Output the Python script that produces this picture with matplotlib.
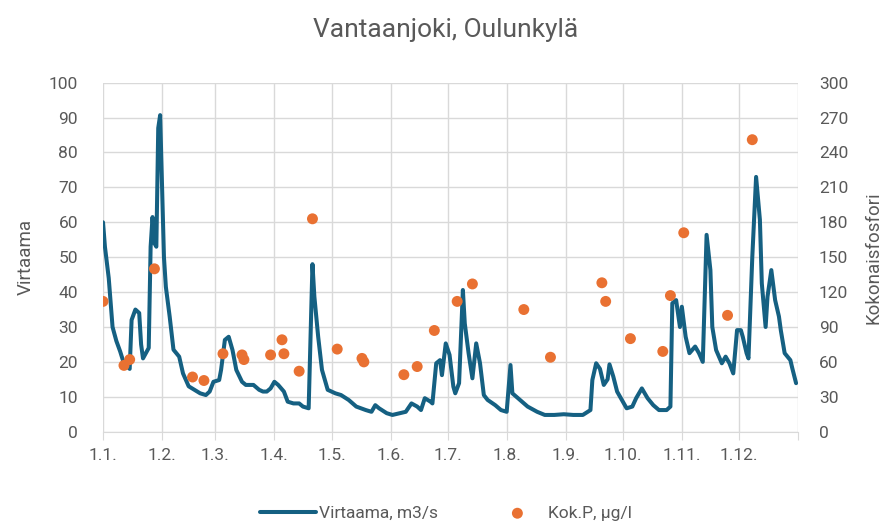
import matplotlib
matplotlib.use("Agg")
import matplotlib.pyplot as plt

# Daily flow (day of year, m3/s)
flow_day = [0, 1, 3, 4, 5, 7, 9, 11, 14, 15, 17, 19, 20, 21, 23, 24, 25, 26, 27, 28,
            29, 30, 31, 32, 33, 35, 37, 40, 42, 45, 48, 51, 54, 56, 58, 61, 62, 64, 66, 68,
            70, 73, 75, 79, 82, 84, 86, 88, 90, 92, 95, 97, 100, 103, 105, 108, 110, 111, 113, 115,
            118, 122, 125, 129, 133, 138, 141, 143, 145, 149, 152, 156, 159, 162, 165, 167, 169, 172, 173, 175,
            177, 178, 180, 182, 184, 185, 187, 189, 190, 192, 194, 196, 198, 200, 202, 206, 209, 212, 214, 215,
            219, 223, 228, 232, 237, 242, 247, 252, 256, 257, 259, 261, 263, 265, 266, 268, 270, 272, 275, 278,
            280, 283, 286, 289, 292, 296, 298, 299, 301, 303, 304, 306, 308, 311, 313, 315, 317, 319, 320, 322,
            325, 327, 329, 331, 333, 335, 336, 338, 339, 341, 343, 345, 346, 348, 349, 351, 353, 355, 356, 358,
            361, 362, 364]
flow_val = [60, 53, 44, 37, 30, 26, 23, 19.5, 18, 32, 35, 34, 25, 21, 23, 24, 53, 61.5, 54, 53,
            87, 90.7, 70, 50, 41.5, 33, 23.5, 21.5, 16.7, 13, 12, 11, 10.5, 11.5, 14.3, 14.8, 17.7, 26.3, 27.2, 23.4,
            17.7, 14.3, 13.4, 13.4, 12, 11.5, 11.5, 12.4, 14.3, 13.4, 11.5, 8.6, 8.1, 8.1, 7.2, 6.7, 48, 38.7, 27.2, 17.7,
            12, 11, 10.5, 9.1, 7.2, 6.2, 5.7, 7.6, 6.7, 5.3, 4.8, 5.3, 5.7, 8.1, 7.2, 6.2, 9.6, 8.6, 8.1, 19.6,
            20.5, 16.2, 25.3, 22, 12.9, 11, 13.9, 40.6, 31, 22.5, 15.3, 25.3, 19.6, 10.5, 9.1, 7.6, 6.2, 5.7, 19.1, 11,
            9.1, 7.2, 5.7, 4.8, 4.8, 5.0, 4.8, 4.8, 6.2, 14.8, 19.6, 18, 13.4, 15, 19.3, 15.8, 11.5, 9.6, 6.7, 7.2,
            9.6, 12.4, 9.6, 7.6, 6.2, 6.2, 7.2, 36.8, 37.7, 30, 35.8, 27.2, 22.5, 24.4, 22.5, 20, 56.4, 46.3, 30, 23.4,
            19.6, 21.5, 19.6, 16.7, 29.1, 29.1, 27.2, 22.5, 21, 50, 73, 60.7, 42.5, 30, 38.7, 46.3, 37.7, 33, 29, 22.5,
            20.5, 18.2, 13.9]

# Total phosphorus samples (day of year, ug/l)
p_day = [0, 11, 14, 27, 47, 53, 63, 73, 74, 88, 94, 95, 103, 110, 123, 136, 137,
         158, 165, 174, 186, 194, 221, 235, 262, 264, 277, 294, 298, 305, 328, 341]
p_val = [112, 57, 62, 140, 47, 44, 67, 66, 62, 66, 79, 67, 52, 183, 71, 63, 60,
         49, 56, 87, 112, 127, 105, 64, 128, 112, 80, 69, 117, 171, 100, 251]

month_start = [0, 31, 59, 90, 120, 151, 181, 212, 243, 273, 304, 334, 365]
month_labels = ["1.1.", "1.2.", "1.3.", "1.4.", "1.5.", "1.6.", "1.7.", "1.8.",
                "1.9.", "1.10.", "1.11.", "1.12.", ""]

plt.rcParams['font.family'] = ['Roboto', 'DejaVu Sans']
text_col = "#595959"
grid_col = "#d9d9d9"

fig = plt.figure(figsize=(8.92, 5.28), dpi=100)
ax = fig.add_axes([0.1155, 0.1824, 0.7791, 0.661])
ax2 = ax.twinx()

line, = ax.plot(flow_day, flow_val, color="#156082", lw=2.9, label="Virtaama, m3/s",
                solid_joinstyle="round", solid_capstyle="round", zorder=3)
dots = ax2.scatter(p_day, p_val, s=62, color="#e97132", edgecolors="none",
                   label="Kok.P, µg/l", zorder=4)

ax.set_xlim(0, 365)
ax.set_ylim(0, 100)
ax2.set_ylim(0, 300)
ax.set_yticks(range(0, 101, 10))
ax2.set_yticks(range(0, 301, 30))
ax.set_xticks(month_start)
ax.set_xticklabels(month_labels)

# gridlines: horizontal from left axis, vertical at each month start
ax.grid(True, color=grid_col, lw=1)
ax.set_axisbelow(True)

for a in (ax, ax2):
    for s in a.spines.values():
        s.set_visible(False)
ax.spines['bottom'].set_visible(True)
ax.spines['bottom'].set_color(grid_col)

ax.tick_params(axis='x', length=6, color=grid_col, labelcolor=text_col, labelsize=12.5, pad=6)
ax.tick_params(axis='y', length=0, labelcolor=text_col, labelsize=12.5, pad=18)
ax2.tick_params(axis='y', length=0, labelcolor=text_col, labelsize=12.5, pad=15)

ax.set_ylabel("Virtaama", color=text_col, fontsize=13.5, labelpad=10)
ax2.set_ylabel("Kokonaisfosfori", color=text_col, fontsize=13.5, labelpad=12)

fig.text(0.5, 0.943, "Vantaanjoki, Oulunkylä", ha="center", va="center",
         fontsize=19, color=text_col)

fig.legend([line, dots], ["Virtaama, m3/s", "Kok.P, µg/l"], loc="center",
           bbox_to_anchor=(0.5, 0.028), ncol=2, frameon=False, fontsize=12.5,
           labelcolor=text_col, handlelength=3.2, handletextpad=0.15, columnspacing=3.0)

plt.savefig("out.png", dpi=100)
plt.close()
